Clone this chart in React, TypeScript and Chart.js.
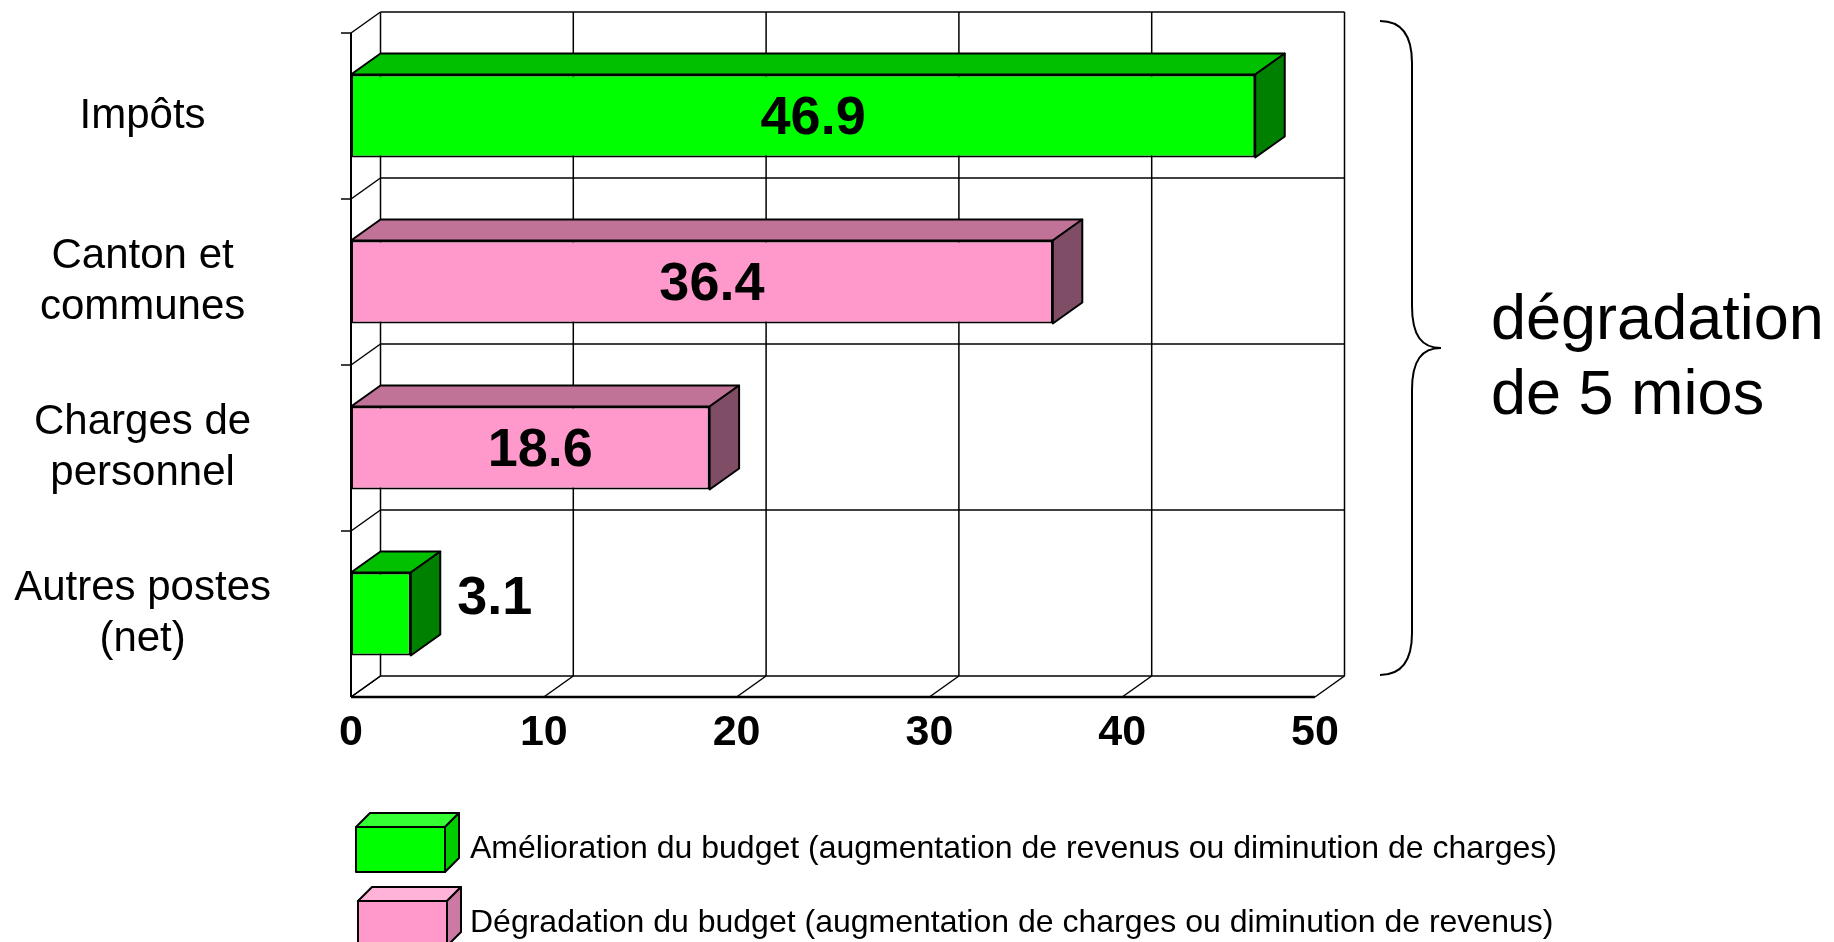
import React, { useEffect, useRef } from 'react';
import { Chart, registerables } from 'chart.js';

Chart.register(...registerables);

// ---------- data ----------
const categories: (string | string[])[] = [
  'Impôts',
  ['Canton et', 'communes'],
  ['Charges de', 'personnel'],
  ['Autres postes', '(net)'],
];
const ameliorationValues: (number | null)[] = [46.9, null, null, 3.1];
const degradationValues: (number | null)[] = [null, 36.4, 18.6, null];
const xTicks = [0, 10, 20, 30, 40, 50];
const legendLabels = [
  'Amélioration du budget (augmentation de revenus ou diminution de charges)',
  'Dégradation du budget (augmentation de charges ou diminution de revenus)',
];
const annotationLines = ['dégradation', 'de 5 mios'];

// ---------- styles ----------
const FONT = 'Arial, "Liberation Sans", sans-serif';
const DX = 29.5;
const DY = 21;
const STYLES = [
  { front: '#00FF00', top: '#00C000', side: '#008000', lTop: '#33FF33', lSide: '#00CC00' },
  { front: '#FF99CC', top: '#C07396', side: '#804D66', lTop: '#FFB3D9', lSide: '#CC7AA3' },
];

function line(ctx: CanvasRenderingContext2D, x1: number, y1: number, x2: number, y2: number) {
  ctx.beginPath();
  ctx.moveTo(x1, y1);
  ctx.lineTo(x2, y2);
  ctx.stroke();
}

function poly(ctx: CanvasRenderingContext2D, pts: number[][], fill: string, lw = 2) {
  ctx.beginPath();
  ctx.moveTo(pts[0][0], pts[0][1]);
  for (let i = 1; i < pts.length; i++) ctx.lineTo(pts[i][0], pts[i][1]);
  ctx.closePath();
  ctx.fillStyle = fill;
  ctx.fill();
  ctx.lineWidth = lw;
  ctx.strokeStyle = '#000';
  ctx.lineJoin = 'round';
  ctx.stroke();
}

const threeD = {
  id: 'threeD',
  beforeDatasetsDraw(chart: any) {
    const { ctx, scales } = chart;
    const xs = scales.x;
    const ys = scales.y;
    const n = categories.length;
    const band = Math.abs(ys.getPixelForValue(1) - ys.getPixelForValue(0));
    const bounds: number[] = [];
    for (let k = 0; k <= n; k++) bounds.push(ys.getPixelForValue(0) - band / 2 + k * band);
    const x0 = xs.getPixelForValue(xTicks[0]);
    const xN = xs.getPixelForValue(xTicks[xTicks.length - 1]);
    ctx.save();
    ctx.strokeStyle = '#000';
    // back wall
    ctx.lineWidth = 1.5;
    xTicks.forEach((v) => {
      const px = xs.getPixelForValue(v) + DX;
      line(ctx, px, bounds[0] - DY, px, bounds[n] - DY);
    });
    bounds.forEach((b) => line(ctx, x0 + DX, b - DY, xN + DX, b - DY));
    // left wall diagonals + ticks
    bounds.forEach((b, k) => {
      line(ctx, x0, b, x0 + DX, b - DY);
      if (k < n) line(ctx, x0 - 10, b, x0, b);
    });
    // floor diagonals
    xTicks.forEach((v) => {
      const px = xs.getPixelForValue(v);
      line(ctx, px, bounds[n], px + DX, bounds[n] - DY);
    });
    // front axes
    ctx.lineWidth = 2;
    line(ctx, x0, bounds[0], x0, bounds[n]);
    ctx.lineWidth = 2.5;
    line(ctx, x0, bounds[n], xN, bounds[n]);
    ctx.restore();
  },
  afterDatasetsDraw(chart: any) {
    const { ctx } = chart;
    ctx.save();
    chart.data.datasets.forEach((ds: any, d: number) => {
      const meta = chart.getDatasetMeta(d);
      const st = STYLES[d];
      meta.data.forEach((el: any, i: number) => {
        const v = ds.data[i];
        if (v == null) return;
        const { x, y, base, height } = el.getProps(['x', 'y', 'base', 'height'], true);
        const top = y - height / 2;
        const bottom = y + height / 2;
        poly(ctx, [[base, top], [x, top], [x + DX, top - DY], [base + DX, top - DY]], st.top);
        poly(ctx, [[x, top], [x + DX, top - DY], [x + DX, bottom - DY], [x, bottom]], st.side);
        // value label
        ctx.fillStyle = '#000';
        ctx.font = `bold 54px ${FONT}`;
        ctx.textBaseline = 'middle';
        if (v >= 10) {
          ctx.textAlign = 'center';
          ctx.fillText(String(v), (base + x) / 2 + 10, y + 3);
        } else {
          ctx.textAlign = 'left';
          ctx.fillText(String(v), x + DX + 17, y - 15);
        }
      });
    });
    ctx.restore();
  },
  afterDraw(chart: any) {
    const { ctx, chartArea: a } = chart;
    ctx.save();
    // brace
    const bt = a.top - DY + 9;
    const bb = a.bottom - DY - 1;
    const mid = (bt + bb) / 2;
    const xa = a.right + 65;
    const xv = xa + 32;
    const xt = xa + 61;
    ctx.strokeStyle = '#000';
    ctx.lineWidth = 2;
    ctx.beginPath();
    ctx.moveTo(xa, bt);
    ctx.bezierCurveTo(xa + 22, bt, xv, bt + 14, xv, bt + 42);
    ctx.lineTo(xv, mid - 42);
    ctx.bezierCurveTo(xv, mid - 12, xv + 10, mid, xt, mid);
    ctx.bezierCurveTo(xv + 10, mid, xv, mid + 12, xv, mid + 42);
    ctx.lineTo(xv, bb - 42);
    ctx.bezierCurveTo(xv, bb - 14, xa + 22, bb, xa, bb);
    ctx.stroke();
    // annotation text
    ctx.fillStyle = '#000';
    ctx.font = `63px ${FONT}`;
    ctx.textAlign = 'left';
    ctx.textBaseline = 'alphabetic';
    ctx.fillText(annotationLines[0], 1491, 339);
    ctx.fillText(annotationLines[1], 1491, 414);

    // legend
    const lx = 356;
    const lw = 89;
    const lh = 45;
    const ldx = 14;
    const ldy = 14;
    chart.data.datasets.forEach((ds: any, d: number) => {
      const st = STYLES[d];
      const ty = 827 + d * 74;
      const bx = lx + d * 2;
      poly(ctx, [[bx, ty], [bx + lw, ty], [bx + lw + ldx, ty - ldy], [bx + ldx, ty - ldy]], st.lTop, 2);
      poly(ctx, [[bx + lw, ty], [bx + lw + ldx, ty - ldy], [bx + lw + ldx, ty + lh - ldy], [bx + lw, ty + lh]], st.lSide, 2);
      poly(ctx, [[bx, ty], [bx + lw, ty], [bx + lw, ty + lh], [bx, ty + lh]], st.front, 2);
      ctx.fillStyle = '#000';
      ctx.font = `32px ${FONT}`;
      ctx.textAlign = 'left';
      ctx.textBaseline = 'middle';
      ctx.fillText(ds.label, 470, ty + lh / 2);
    });
    ctx.restore();
  },
};

export default function App() {
  const ref = useRef<HTMLCanvasElement>(null);
  useEffect(() => {
    if (!ref.current) return;
    const chart = new Chart(ref.current, {
      type: 'bar',
      data: {
        labels: categories as any,
        datasets: [
          {
            label: legendLabels[0],
            data: ameliorationValues as any,
            backgroundColor: STYLES[0].front,
            borderColor: '#000',
            borderWidth: 2,
            borderSkipped: false,
            grouped: false,
            barPercentage: 0.5,
            categoryPercentage: 1,
          } as any,
          {
            label: legendLabels[1],
            data: degradationValues as any,
            backgroundColor: STYLES[1].front,
            borderColor: '#000',
            borderWidth: 2,
            borderSkipped: false,
            grouped: false,
            barPercentage: 0.5,
            categoryPercentage: 1,
          } as any,
        ],
      },
      options: {
        indexAxis: 'y',
        responsive: false,
        animation: false,
        devicePixelRatio: 1,
        layout: { padding: { left: 0, top: 33, right: 519, bottom: 185 } },
        plugins: { legend: { display: false }, tooltip: { enabled: false } },
        scales: {
          x: {
            type: 'linear',
            min: xTicks[0],
            max: xTicks[xTicks.length - 1],
            afterBuildTicks: (s: any) => {
              s.ticks = xTicks.map((v) => ({ value: v }));
            },
            grid: { display: false, drawTicks: false },
            border: { display: false },
            ticks: {
              font: { family: FONT, size: 43, weight: 'bold' },
              color: '#000',
              padding: 10,
              maxRotation: 0,
              autoSkip: false,
            },
            afterFit: (s: any) => {
              s.height = 60;
            },
          },
          y: {
            grid: { display: false, drawTicks: false },
            border: { display: false },
            ticks: {
              font: { family: FONT, size: 42, lineHeight: 1.22 },
              color: '#000',
              crossAlign: 'center',
              padding: 80,
            },
            afterFit: (s: any) => {
              s.width = 351;
              s.paddingTop = 0;
              s.paddingBottom = 0;
            },
          },
        },
      } as any,
      plugins: [threeD],
    });
    return () => chart.destroy();
  }, []);
  return (
    <div style={{ position: 'fixed', left: 0, top: 0, width: 1834, height: 942, background: '#fff' }}>
      <canvas ref={ref} width={1834} height={942} style={{ display: 'block', width: 1834, height: 942 }} />
    </div>
  );
}
